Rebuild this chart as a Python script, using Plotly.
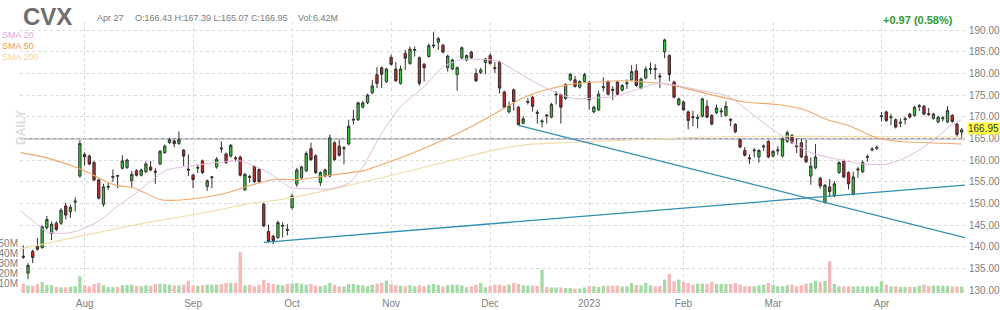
import plotly.graph_objects as go

# ---------------- data ----------------
opens = [
    137.8, 133.9, 138.9, 140.1, 139.8, 144.4, 143.1, 145.4, 145.4, 149.4,
    148.1, 150.3, 156.3, 161.3, 160.9, 159.4, 155.4, 149.8, 153.7, 156.0,
    156.4, 158.1, 158.3, 155.2, 157.5, 156.5, 157.3, 158.4, 157.4, 159.1,
    161.7, 164.0, 164.4, 163.8, 162.3, 157.9, 156.5, 158.1, 159.8, 153.9,
    155.9, 158.4, 162.8, 161.4, 160.9, 160.5, 160.7, 153.1, 156.2, 158.5,
    157.8, 149.8, 143.5, 142.4, 142.1, 144.7, 144.0, 149.0, 154.4, 155.9,
    157.5, 162.6, 161.0, 154.8, 156.3, 156.3, 164.0, 163.2, 162.6, 163.7,
    169.2, 169.3, 172.2, 173.2, 175.5, 179.7, 181.3, 178.1, 183.7, 181.0,
    177.7, 184.6, 182.3, 185.3, 183.6, 182.1, 183.9, 186.3, 187.2, 186.5,
    181.3, 181.0, 179.7, 183.6, 183.1, 184.9, 180.0, 180.2, 182.5, 184.1,
    181.3, 182.6, 175.7, 171.1, 176.2, 172.2, 168.5, 173.3, 174.5, 171.0,
    168.8, 170.4, 169.9, 175.0, 175.1, 174.2, 178.5, 178.5, 176.8, 178.1,
    178.0, 171.1, 171.6, 176.7, 178.1, 176.3, 178.0, 176.1, 177.6, 178.5,
    180.6, 176.6, 178.9, 180.9, 181.1, 179.4, 185.0, 184.1, 178.0, 172.8,
    173.4, 171.1, 170.0, 169.6, 170.1, 172.4, 170.3, 170.9, 171.1, 170.3,
    169.4, 168.2, 164.7, 162.2, 160.5, 162.1, 160.7, 163.0, 164.3, 160.9,
    162.1, 160.9, 164.3, 165.7, 163.3, 164.0, 160.9, 156.3, 158.2, 155.8,
    150.2, 153.8, 151.7, 157.1, 159.8, 157.1, 152.1, 157.7, 157.3, 160.6,
    162.3, 162.7, 170.0, 171.1, 169.8, 169.3, 168.5, 169.3, 170.6, 170.3,
    172.3, 172.4, 170.7, 169.6, 168.8, 169.5, 168.8, 170.3, 168.3, 166.43,
]
highs = [
    140.3, 136.2, 139.3, 142.0, 144.9, 147.1, 145.8, 145.9, 148.9, 150.2,
    149.7, 151.4, 164.6, 161.8, 161.3, 159.8, 155.7, 154.5, 154.7, 157.8,
    156.6, 161.1, 160.3, 157.5, 157.9, 158.0, 159.6, 159.8, 158.1, 162.3,
    163.6, 165.1, 164.8, 166.6, 162.5, 161.3, 156.8, 158.9, 160.1, 155.5,
    156.3, 160.7, 164.3, 161.7, 163.7, 160.9, 161.0, 157.0, 156.6, 158.8,
    158.1, 150.2, 145.1, 142.7, 146.0, 145.6, 145.2, 152.2, 158.2, 158.7,
    162.0, 164.0, 161.3, 157.4, 158.0, 165.9, 164.3, 164.7, 163.2, 169.3,
    171.6, 173.5, 173.6, 175.3, 178.5, 181.4, 181.6, 181.3, 184.3, 182.6,
    181.8, 185.4, 186.2, 186.2, 183.9, 182.4, 186.9, 189.6, 188.4, 186.8,
    184.3, 183.4, 181.6, 186.2, 184.4, 185.2, 181.1, 181.3, 183.6, 184.6,
    182.6, 182.9, 176.0, 173.5, 176.5, 172.5, 170.1, 174.3, 174.8, 171.6,
    169.4, 170.6, 173.2, 175.9, 175.4, 177.7, 180.1, 179.4, 178.4, 180.1,
    178.3, 172.5, 176.0, 179.1, 178.4, 177.0, 178.3, 177.5, 178.6, 181.9,
    182.1, 179.0, 181.6, 182.5, 182.1, 180.1, 188.0, 184.4, 178.3, 174.4,
    173.7, 171.4, 171.4, 170.5, 174.4, 173.8, 170.6, 172.8, 172.0, 173.5,
    169.6, 168.5, 165.0, 163.0, 161.3, 162.8, 162.5, 163.6, 164.6, 162.3,
    163.2, 165.2, 166.8, 166.0, 165.0, 165.0, 164.7, 160.6, 163.7, 156.1,
    154.5, 155.6, 155.1, 159.7, 160.1, 157.4, 157.3, 158.4, 159.9, 161.3,
    163.0, 163.4, 171.1, 171.4, 170.6, 169.6, 169.6, 170.0, 170.9, 172.5,
    172.9, 172.7, 172.0, 170.9, 170.2, 170.2, 172.4, 170.6, 168.6, 167.39,
]
lows = [
    137.2, 132.5, 136.2, 139.1, 139.5, 143.9, 141.5, 143.6, 145.0, 146.3,
    146.6, 148.1, 155.9, 158.7, 158.8, 155.2, 150.9, 149.2, 153.0, 155.0,
    153.5, 157.8, 157.9, 153.6, 156.2, 156.2, 157.0, 157.4, 154.5, 158.8,
    161.4, 163.7, 162.9, 163.5, 158.6, 156.3, 153.5, 157.0, 156.8, 152.9,
    153.5, 158.0, 161.7, 159.1, 160.6, 159.6, 156.2, 152.9, 154.8, 154.7,
    154.7, 144.5, 141.0, 140.6, 141.8, 142.1, 142.6, 148.6, 153.8, 155.6,
    157.2, 159.8, 156.8, 154.0, 156.0, 156.0, 159.8, 160.8, 159.0, 163.4,
    168.2, 169.0, 171.9, 172.9, 175.2, 176.6, 176.6, 177.8, 181.8, 178.0,
    177.4, 180.8, 182.0, 183.9, 177.2, 178.1, 183.6, 185.8, 185.4, 184.6,
    180.4, 180.7, 176.0, 183.3, 182.8, 183.3, 178.0, 179.8, 179.8, 182.0,
    180.1, 175.4, 171.9, 170.8, 171.4, 168.0, 168.2, 172.8, 171.2, 168.4,
    167.5, 168.4, 169.6, 172.8, 168.4, 173.9, 178.2, 176.7, 176.5, 177.8,
    171.6, 170.8, 171.3, 175.8, 174.9, 173.9, 174.9, 175.8, 176.4, 178.2,
    176.9, 176.3, 178.6, 179.8, 178.6, 176.6, 183.5, 178.2, 174.2, 172.5,
    171.3, 167.1, 167.8, 167.3, 169.8, 169.6, 168.0, 170.6, 169.9, 170.0,
    167.8, 166.2, 162.7, 160.8, 159.1, 160.6, 159.4, 162.1, 160.4, 160.6,
    161.2, 160.6, 164.0, 163.7, 161.6, 160.4, 159.3, 154.3, 157.9, 153.4,
    150.0, 151.5, 151.4, 156.8, 155.8, 153.2, 151.8, 155.9, 157.0, 159.6,
    162.0, 162.3, 168.9, 168.8, 168.0, 167.3, 167.6, 168.2, 169.6, 170.0,
    171.3, 170.3, 170.2, 169.3, 168.5, 168.9, 168.5, 168.6, 165.3, 165.07,
]
closes = [
    137.6, 135.7, 137.5, 139.4, 144.6, 146.3, 145.2, 144.0, 148.4, 147.3,
    149.1, 150.5, 163.8, 160.7, 159.1, 155.4, 151.2, 153.8, 153.9, 156.2,
    156.3, 159.8, 160.0, 156.7, 156.5, 157.7, 159.1, 157.7, 157.2, 162.0,
    163.2, 164.7, 163.8, 164.7, 160.9, 157.7, 155.5, 158.3, 157.1, 155.2,
    156.1, 160.2, 162.6, 159.4, 163.4, 160.3, 156.5, 156.7, 156.0, 155.0,
    155.0, 144.8, 141.2, 141.4, 145.6, 144.9, 143.8, 151.7, 157.7, 158.4,
    161.5, 160.1, 157.1, 157.1, 157.7, 165.1, 160.1, 161.1, 162.8, 167.8,
    169.4, 173.2, 173.2, 175.0, 177.1, 177.7, 179.8, 181.0, 182.1, 178.3,
    181.0, 183.5, 185.6, 185.5, 177.7, 181.3, 186.4, 186.5, 188.0, 184.9,
    184.0, 183.1, 181.3, 185.9, 184.1, 183.6, 178.3, 180.8, 183.3, 182.3,
    181.1, 176.6, 172.2, 172.5, 173.5, 168.2, 169.5, 173.5, 172.4, 170.8,
    169.0, 170.2, 172.8, 175.2, 172.2, 177.4, 179.8, 177.0, 178.1, 179.7,
    173.9, 172.2, 175.2, 176.9, 175.2, 176.1, 175.2, 177.2, 177.8, 180.4,
    177.2, 178.7, 181.0, 181.1, 180.9, 179.2, 187.7, 179.7, 174.5, 174.1,
    171.6, 169.1, 169.8, 169.8, 174.1, 169.9, 168.3, 172.0, 171.3, 172.4,
    169.2, 166.5, 163.0, 161.1, 160.3, 162.3, 162.2, 163.2, 160.7, 162.0,
    162.3, 164.9, 166.3, 164.0, 163.1, 160.7, 159.6, 158.6, 160.7, 154.0,
    154.2, 152.7, 154.5, 159.4, 156.1, 154.5, 156.1, 157.9, 159.4, 160.8,
    162.5, 162.9, 170.2, 169.1, 170.0, 167.6, 168.7, 169.5, 169.9, 172.2,
    172.5, 170.6, 170.5, 170.6, 169.9, 169.7, 171.4, 168.9, 165.9, 166.95,
]
volumes_m = [
    9.3, 7.7, 7.3, 9.0, 11.0, 8.0, 7.7, 6.0, 5.7, 5.7,
    6.3, 6.7, 16.7, 7.7, 6.7, 9.0, 10.0, 7.7, 6.0, 6.0,
    6.0, 7.7, 8.0, 8.3, 7.3, 6.7, 7.7, 7.3, 9.0, 9.3,
    9.0, 8.3, 7.7, 7.7, 8.3, 12.3, 7.7, 7.3, 7.7, 8.3,
    8.3, 8.3, 9.0, 10.0, 10.0, 10.0, 40.7, 7.7, 8.3, 6.7,
    8.3, 13.3, 10.0, 9.0, 8.3, 7.7, 9.0, 9.3, 10.0, 9.3,
    8.3, 9.0, 7.3, 6.7, 7.7, 10.0, 8.3, 6.7, 6.7, 9.0,
    9.0, 8.3, 7.7, 6.7, 8.3, 9.3, 10.0, 12.3, 9.0, 7.7,
    7.3, 6.7, 7.7, 6.7, 7.7, 6.7, 8.3, 9.0, 8.3, 6.7,
    7.7, 8.3, 8.3, 7.7, 5.7, 6.7, 8.3, 10.0, 5.7, 7.3,
    8.3, 8.3, 7.3, 8.5, 10.0, 9.0, 7.7, 7.3, 7.3, 7.3,
    23.0, 6.0, 5.5, 5.5, 5.5, 5.0, 5.0, 4.5, 4.5, 5.5,
    6.7, 6.7, 6.0, 7.3, 7.3, 7.3, 7.3, 6.7, 6.7, 10.0,
    8.0, 7.7, 10.0, 7.7, 6.7, 7.0, 13.3, 19.0, 11.7, 13.3,
    11.0, 10.0, 8.3, 9.3, 9.3, 9.3, 11.0, 9.0, 9.0, 9.0,
    9.0, 10.0, 8.3, 6.7, 6.7, 6.7, 7.7, 8.3, 10.0, 8.3,
    6.7, 6.7, 7.7, 8.3, 6.7, 7.7, 9.3, 10.0, 12.3, 11.0,
    12.0, 31.7, 9.0, 6.7, 6.7, 6.7, 6.7, 6.7, 6.7, 6.7,
    6.7, 6.7, 11.7, 8.3, 6.7, 6.7, 6.0, 6.0, 6.0, 6.0,
    7.3, 8.3, 6.7, 7.3, 7.3, 7.3, 7.3, 6.7, 6.7, 6.4,
]

# month labels and the trading-day index of the first session of each month
month_labels = ["Aug", "Sep", "Oct", "Nov", "Dec", "2023", "Feb", "Mar", "Apr"]
month_start_idx = [13, 36, 57, 78, 99, 120, 140, 159, 182]

# moving averages (bar index, value)
sma20_idx = [-0.6, 2, 5, 9, 12, 16.3, 19.8, 23.3, 26.9, 30.4, 33.9, 41, 46, 49, 52,
             55, 57, 60, 65, 67, 69, 72, 76, 80, 85, 89, 93, 99, 101, 106, 111,
             116.6, 121, 125, 130.8, 134.4, 138, 143.5, 149.5, 153, 156.6, 161.5,
             167, 173, 178, 182.7, 186, 190, 194, 197, 199]
sma20_val = [148.3, 146.0, 143.4, 143.1, 143.8, 146.1, 149.2, 151.9, 155.0, 157.7,
             158.4, 159.4, 159.8, 158.6, 157.1, 154.8, 153.5, 153.4, 153.3, 153.8,
             154.7, 158.4, 166.2, 172.3, 176.9, 181.5, 183.2, 183.1, 182.7, 179.5,
             176.5, 174.2, 174.3, 174.6, 176.5, 177.7, 177.3, 176.1, 174.7, 172.0,
             168.9, 165.1, 161.7, 160.1, 159.1, 159.0, 160.0, 162.3, 165.5, 168.2,
             169.3]
sma50_idx = [-0.6, 5, 12, 19.5, 23.3, 29, 32.2, 37.8, 43.5, 47.7, 53.4, 58.3, 65,
             72, 79, 86, 93, 100.3, 105.9, 110.9, 115.8, 121.5, 128.5, 132.8,
             135.2, 138.8, 145.8, 152.8, 159.9, 165.6, 170.5, 175.4, 181, 186.7,
             191.6, 199]
sma50_val = [161.7, 160.5, 158.0, 154.2, 153.6, 150.9, 150.7, 151.3, 152.5, 154.0,
             155.5, 155.5, 156.5, 157.5, 160.1, 163.2, 166.6, 170.9, 174.3, 176.2,
             177.4, 178.0, 178.3, 177.9, 177.7, 177.0, 175.1, 173.4, 172.8, 171.6,
             169.3, 167.8, 165.1, 164.2, 164.0, 163.7]
sma200_idx = [-0.6, 12.4, 26.5, 40.6, 48, 54.8, 66, 79, 93, 100.3, 107.3, 114.4,
              121.5, 132.8, 145, 160, 175, 199]
sma200_val = [139.5, 142.5, 145.6, 148.3, 150.0, 150.9, 153.4, 156.7, 160.5, 162.4,
              163.6, 164.0, 164.3, 164.8, 165.3, 165.5, 165.4, 165.3]

# user-drawn trend lines (bar index, price) and horizontal level
trend_up_idx, trend_up_val = [51, 199.7], [141.0, 154.2]
trend_dn_idx, trend_dn_val = [105, 199.7], [168.0, 142.1]
level_price = 164.9

price_ticks = [130, 135, 140, 145, 150, 155, 160, 165, 170, 175, 180, 185, 190]
volume_ticks = [10, 20, 30, 40, 50]
last_close = 166.95

# ---------------- figure ----------------
n = len(closes)
bar_idx = list(range(n))
GREEN, RED = "#3fc43f", "#c42a2a"
vol_colors = ["#a4daa4" if c >= o else "#f5b7b7" for o, c in zip(opens, closes)]

fig = go.Figure()

fig.add_trace(go.Bar(x=bar_idx, y=volumes_m, marker_color=vol_colors,
                     marker_line_width=0, width=0.7, yaxis="y",
                     hoverinfo="skip", showlegend=False))

for xs, ys, col, w in [(sma200_idx, sma200_val, "#f3dcaa", 1.1),
                       (sma50_idx, sma50_val, "#f0a868", 1.1),
                       (sma20_idx, sma20_val, "#e0bce0", 1.0)]:
    fig.add_trace(go.Scatter(x=xs, y=ys, mode="lines", yaxis="y2",
                             line=dict(color=col, width=w, shape="spline",
                                       smoothing=0.6),
                             hoverinfo="skip", showlegend=False))

for xs, ys in [(trend_up_idx, trend_up_val), (trend_dn_idx, trend_dn_val)]:
    fig.add_trace(go.Scatter(x=xs, y=ys, mode="lines", yaxis="y2",
                             line=dict(color="#2f8fb0", width=1.3),
                             hoverinfo="skip", showlegend=False))

fig.add_trace(go.Candlestick(
    x=bar_idx, open=opens, high=highs, low=lows, close=closes, yaxis="y2",
    increasing=dict(fillcolor=GREEN, line=dict(color="#2e3a2e", width=1)),
    decreasing=dict(fillcolor=RED, line=dict(color="#3a2a2a", width=1)),
    whiskerwidth=0, showlegend=False))

fig.add_shape(type="line", xref="paper", x0=0, x1=1, yref="y2",
              y0=level_price, y1=level_price,
              line=dict(color="#9a9aaa", width=1.5), layer="below")

GRID = "#d9d9d9"
fig.update_layout(
    width=1000, height=310,
    margin=dict(l=20, r=35, t=22, b=17, autoexpand=False),
    paper_bgcolor="white", plot_bgcolor="white",
    font=dict(family="Liberation Sans, Arial, sans-serif", size=10, color="#808080"),
    xaxis=dict(range=[-0.7, 199.7], tickvals=month_start_idx, ticktext=month_labels,
               showgrid=True, gridcolor=GRID, griddash="dot", gridwidth=1,
               zeroline=False, showline=False, ticks="", automargin=False,
               rangeslider=dict(visible=False), ticklabelstandoff=3,
               tickfont=dict(size=10, color="#808080")),
    yaxis=dict(range=[0, 271], side="left", tickvals=volume_ticks,
               ticktext=[f"{v}M" for v in volume_ticks], showgrid=False,
               zeroline=False, showline=False, ticks="", automargin=False,
               ticklabelstandoff=1,
               tickfont=dict(size=10, color="#808080")),
    yaxis2=dict(range=[129.31, 191.85], overlaying="y", side="right",
                tickvals=price_ticks, ticktext=[f"{p:.2f}" for p in price_ticks],
                showgrid=True, gridcolor=GRID, griddash="dot", gridwidth=1,
                zeroline=False, showline=False, ticks="", ticklabelstandoff=3,
                automargin=False,
                tickfont=dict(size=10, color="#808080")),
    hovermode=False,
)


def px_x(px):
    return (px - 20) / 945


def px_y(py):
    return (293 - py) / 271


ann = [
    dict(x=px_x(21), y=px_y(16), text="<b>CVX</b>", xanchor="left",
         font=dict(size=24, color="#6e6e6e")),
    dict(x=px_x(95), y=px_y(18), text="Apr 27", xanchor="left",
         font=dict(size=9, color="#7a7a7a")),
    dict(x=px_x(133), y=px_y(18), text="O:166.43 H:167.39 L:165.07 C:166.95",
         xanchor="left", font=dict(size=9, color="#7a7a7a")),
    dict(x=px_x(296), y=px_y(18), text="Vol:6.42M", xanchor="left",
         font=dict(size=9, color="#7a7a7a")),
    dict(x=px_x(955), y=px_y(20), text="<b>+0.97 (0.58%)</b>", xanchor="right",
         font=dict(size=11, color="#2f9a2f")),
    dict(x=px_x(0), y=px_y(35), text="SMA 20", xanchor="left",
         font=dict(size=9, color="#e0a6e0")),
    dict(x=px_x(0), y=px_y(46), text="SMA 50", xanchor="left",
         font=dict(size=9, color="#ee9c50")),
    dict(x=px_x(0), y=px_y(57), text="SMA 200", xanchor="left",
         font=dict(size=9, color="#f0d6a0")),
    dict(x=px_x(12), y=px_y(128), text="<b>DAILY</b>", textangle=-90,
         font=dict(size=12, color="#dcdcdc")),
]
for a in ann:
    a.update(xref="paper", yref="paper", showarrow=False, yanchor="middle")
    fig.add_annotation(**a)

fig.add_annotation(x=px_x(967), y=last_close + 0.3, xref="paper", yref="y2",
                   text=f"{last_close:.2f}", showarrow=False, xanchor="left",
                   yanchor="middle", bgcolor="#ffff44", borderpad=0,
                   font=dict(size=10, color="#333333"))

fig.write_html("out.html")
